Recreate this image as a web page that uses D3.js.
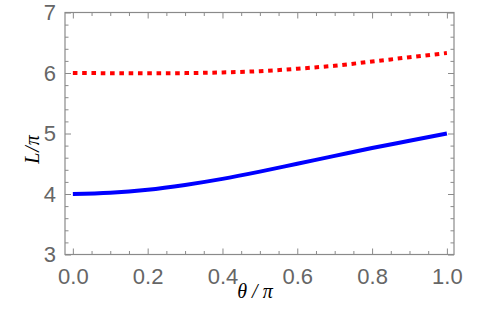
<!DOCTYPE html>
<html>
<head>
<meta charset="utf-8">
<script src="https://cdn.jsdelivr.net/npm/d3@7/dist/d3.min.js"></script>
<style>
html,body{margin:0;padding:0;background:#fff;}
svg{display:block;}
</style>
</head>
<body>
<script>
const theta = [0, 0.1, 0.2, 0.3, 0.4, 0.5, 0.6, 0.7, 0.8, 0.9, 1.0];
const blueL = [4.0, 4.02, 4.07, 4.15, 4.25, 4.37, 4.50, 4.63, 4.76, 4.88, 5.0];
const redL  = [6.0, 5.997, 5.995, 5.998, 6.01, 6.03, 6.07, 6.12, 6.19, 6.26, 6.33];
const xMajor = [0, 0.2, 0.4, 0.6, 0.8, 1.0];
const yMajor = [3, 4, 5, 6, 7];
const xLabel = "θ / π";
const yLabel = "L/π";

const W = 480, H = 311;
const pLeft = 65, pRight = 454, pTop = 12.5, pBottom = 254.5;

const svg = d3.select("body").append("svg").attr("width", W).attr("height", H);
const x = d3.scaleLinear().domain([-0.021, 1.019]).range([pLeft, pRight]);
const y = d3.scaleLinear().domain([3, 7]).range([pBottom, pTop]);

const xMinor = d3.range(0, 1.0001, 0.05).filter(v => !xMajor.some(m => Math.abs(m - v) < 1e-6));
const yMinor = d3.range(3, 7.0001, 0.2).filter(v => !yMajor.some(m => Math.abs(m - v) < 1e-6));

const frameColor = "#8a8a8a";
const labelColor = "#666666";

function styleAxis(g){
  g.select(".domain").remove();
  g.selectAll(".tick line").attr("stroke", frameColor).attr("stroke-width", 1);
  g.selectAll(".tick text").attr("fill", labelColor)
    .style("font-family", "Liberation Sans, Arial, sans-serif").style("font-size", "22px");
}

// bottom
svg.append("g").attr("transform", `translate(0,${pBottom})`)
  .call(d3.axisBottom(x).tickValues(xMajor).tickSizeInner(-6).tickSizeOuter(0).tickPadding(14).tickFormat(d3.format(".1f")))
  .call(styleAxis);
svg.append("g").attr("transform", `translate(0,${pBottom})`)
  .call(d3.axisBottom(x).tickValues(xMinor).tickSizeInner(-3.5).tickSizeOuter(0).tickFormat(""))
  .call(styleAxis);
// top
svg.append("g").attr("transform", `translate(0,${pTop})`)
  .call(d3.axisTop(x).tickValues(xMajor).tickSizeInner(-6).tickSizeOuter(0).tickFormat(""))
  .call(styleAxis);
svg.append("g").attr("transform", `translate(0,${pTop})`)
  .call(d3.axisTop(x).tickValues(xMinor).tickSizeInner(-3.5).tickSizeOuter(0).tickFormat(""))
  .call(styleAxis);
// left
svg.append("g").attr("transform", `translate(${pLeft},0)`)
  .call(d3.axisLeft(y).tickValues(yMajor).tickSizeInner(-6).tickSizeOuter(0).tickPadding(9).tickFormat(d3.format("d")))
  .call(styleAxis);
svg.append("g").attr("transform", `translate(${pLeft},0)`)
  .call(d3.axisLeft(y).tickValues(yMinor).tickSizeInner(-3.5).tickSizeOuter(0).tickFormat(""))
  .call(styleAxis);
// right
svg.append("g").attr("transform", `translate(${pRight},0)`)
  .call(d3.axisRight(y).tickValues(yMajor).tickSizeInner(-6).tickSizeOuter(0).tickFormat(""))
  .call(styleAxis);
svg.append("g").attr("transform", `translate(${pRight},0)`)
  .call(d3.axisRight(y).tickValues(yMinor).tickSizeInner(-3.5).tickSizeOuter(0).tickFormat(""))
  .call(styleAxis);

// frame
svg.append("rect").attr("x", pLeft).attr("y", pTop).attr("width", pRight - pLeft).attr("height", pBottom - pTop)
  .attr("fill", "none").attr("stroke", frameColor).attr("stroke-width", 1.2);

const line = d3.line().x(d => x(d[0])).y(d => y(d[1])).curve(d3.curveMonotoneX);

svg.append("path").datum(theta.map((t, i) => [t, redL[i]]))
  .attr("d", line).attr("fill", "none").attr("stroke", "#ff0000")
  .attr("stroke-width", 4).attr("stroke-dasharray", "4.6,4.7");

svg.append("path").datum(theta.map((t, i) => [t, blueL[i]]))
  .attr("d", line).attr("fill", "none").attr("stroke", "#0000ff")
  .attr("stroke-width", 4);

// axis labels
svg.append("text").attr("x", 255).attr("y", 298)
  .attr("text-anchor", "middle").attr("fill", "#000")
  .style("font-family", "Liberation Serif, Times New Roman, serif").style("font-style", "italic").style("font-size", "20px")
  .text(xLabel);
svg.append("text").attr("transform", "translate(39,149) rotate(-90)")
  .attr("text-anchor", "middle").attr("fill", "#000")
  .style("font-family", "Liberation Serif, Times New Roman, serif").style("font-style", "italic").style("font-size", "20px")
  .attr("letter-spacing", "1px")
  .text(yLabel);
</script>
</body>
</html>
